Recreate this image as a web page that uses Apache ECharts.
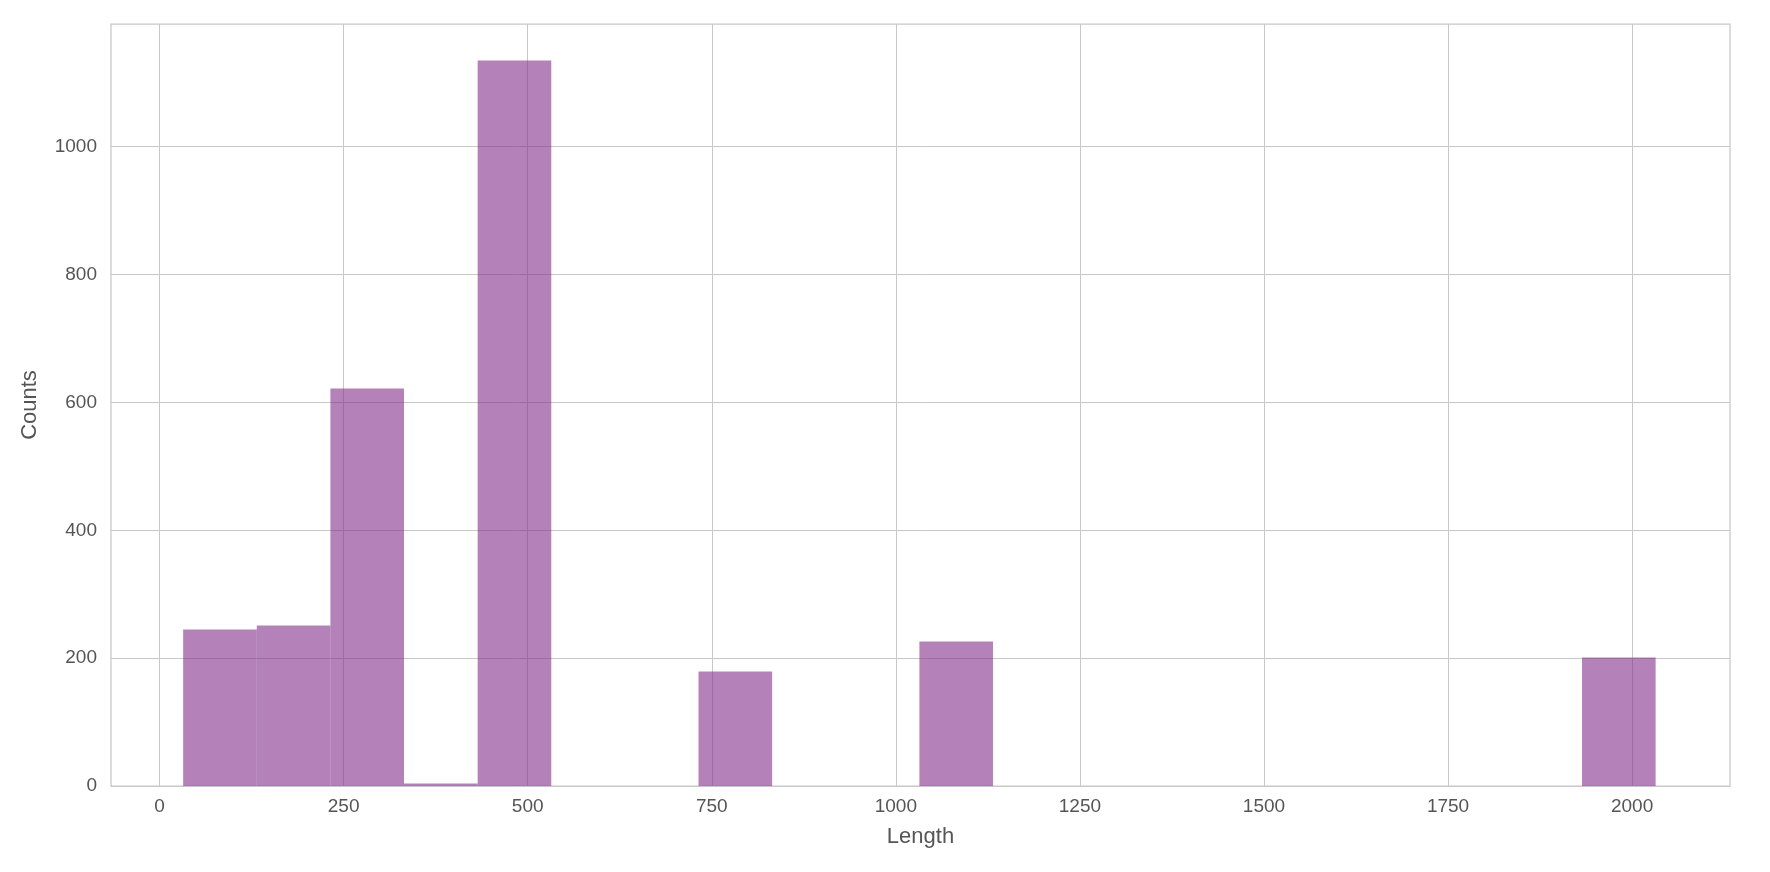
<!DOCTYPE html>
<html>
<head>
<meta charset="utf-8">
<title>Length histogram</title>
<script src="https://cdn.jsdelivr.net/npm/echarts@6/dist/echarts.min.js"></script>
<style>
  html, body { margin: 0; padding: 0; background: #fff; }
  #chart { width: 1770px; height: 872px; }
</style>
</head>
<body>
<div id="chart"></div>
<script>
// histogram bins (20 bins, edges)
var binEdges = [32, 132, 232, 332, 432, 532, 632, 732, 832, 932, 1032,
                1132, 1232, 1332, 1432, 1532, 1632, 1732, 1832, 1932, 2032];
var counts = [245, 251, 622, 4, 1135, 0, 0, 179, 0, 0, 226,
              0, 0, 0, 0, 0, 0, 0, 0, 201];
var xTicks = [0, 250, 500, 750, 1000, 1250, 1500, 1750, 2000];
var yTicks = [0, 200, 400, 600, 800, 1000];

var barColor = 'rgba(130, 47, 138, 0.6)';
var gridColor = '#c8c8c8';
var textColor = '#555555';

var histData = counts.map(function (c, i) {
  return [binEdges[i], binEdges[i + 1], c];
});

function plain(v) { return String(v); }

var chart = echarts.init(document.getElementById('chart'));
chart.setOption({
  animation: false,
  textStyle: { fontFamily: 'Liberation Sans, Arial, sans-serif' },
  grid: {
    left: 111, right: 40, top: 24, bottom: 86,
    show: true, borderColor: gridColor, borderWidth: 1.25,
    backgroundColor: '#fff'
  },
  xAxis: {
    type: 'value',
    min: -66,
    max: 2133,
    name: 'Length',
    nameLocation: 'middle',
    nameGap: 40,
    nameTextStyle: { fontSize: 22, color: textColor },
    axisLine: { show: false },
    axisTick: { show: false, customValues: xTicks },
    axisLabel: { customValues: xTicks, formatter: plain, fontSize: 19, color: textColor, margin: 11 },
    splitLine: { show: true, lineStyle: { color: gridColor, width: 1 } }
  },
  yAxis: {
    type: 'value',
    min: 0,
    max: 1192,
    name: 'Counts',
    nameLocation: 'middle',
    nameGap: 70,
    nameTextStyle: { fontSize: 22, color: textColor },
    axisLine: { show: false },
    axisTick: { show: false, customValues: yTicks },
    axisLabel: { customValues: yTicks, formatter: plain, fontSize: 19, color: textColor, margin: 14 },
    splitLine: { show: true, lineStyle: { color: gridColor, width: 1 } }
  },
  series: [{
    type: 'custom',
    encode: { x: [0, 1], y: 2 },
    data: histData,
    renderItem: function (params, api) {
      var top = api.coord([api.value(0), api.value(2)]);
      var bottom = api.coord([api.value(1), 0]);
      return {
        type: 'rect',
        shape: {
          x: top[0],
          y: top[1],
          width: bottom[0] - top[0],
          height: bottom[1] - top[1]
        },
        style: { fill: barColor }
      };
    }
  }]
});
</script>
</body>
</html>
